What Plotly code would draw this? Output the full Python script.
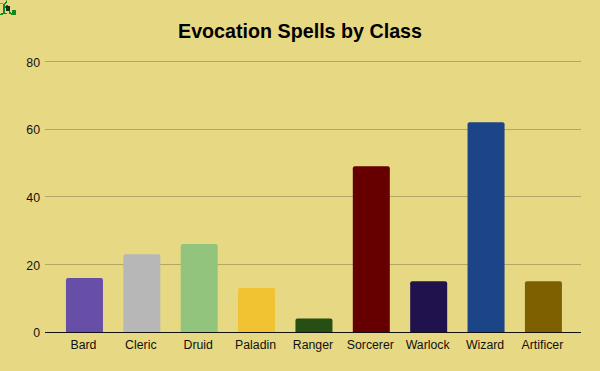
import base64
import plotly.graph_objects as go

classes = ["Bard", "Cleric", "Druid", "Paladin", "Ranger", "Sorcerer", "Warlock", "Wizard", "Artificer"]
spells = [16, 23, 26, 13, 4, 49, 15, 62, 15]
colors = ["#674ea7", "#b7b7b7", "#93c47d", "#f1c232", "#274e13", "#660000", "#20124d", "#1c4587", "#7f6000"]
y_ticks = [0, 20, 40, 60, 80]
BG = "#e7d984"

icon_svg = """<svg xmlns='http://www.w3.org/2000/svg' width='16' height='15' viewBox='0 0 16 15' shape-rendering='crispEdges'>
<g fill='none' stroke='#0b8a1e' stroke-width='1.5'>
<path d='M7 0 L6 2 L4 4 L4 13 L0 14'/><path d='M4 7 L8 5'/><path d='M4 13 L7 13'/>
<path d='M9 8 L10 13 L15 14 L15 10 L13 10 L13 13'/></g>
<path d='M0 3 L3 2 L3 4 L0 4 Z' fill='#d9772c'/>
<path d='M6 6 L10 6 L10 11 L6 11 Z' fill='#1c2a18'/>
</svg>"""
icon_src = "data:image/svg+xml;base64," + base64.b64encode(icon_svg.encode()).decode()

PH = 274.4
PW = 536
fig = go.Figure(go.Bar(x=classes, y=spells, marker=dict(color=colors, line=dict(width=0))))
fig.update_layout(
    width=600, height=371, margin=dict(l=45, r=19, t=57.6, b=39),
    paper_bgcolor=BG, plot_bgcolor=BG, showlegend=False, bargap=0.355, barcornerradius=2,
    font=dict(family="Liberation Sans, Arial, sans-serif", size=12, color="#111111"),
    title=dict(text="<b>Evocation Spells by Class</b>", x=0.5, xanchor="center", y=0.916, yanchor="middle",
               font=dict(size=19.7, color="#000000")),
    xaxis=dict(range=[-0.688, 8.655], showgrid=False, showline=True, linecolor="#111111", linewidth=1,
               ticks="", ticklabelstandoff=1, ticklabelshift=-1, tickfont=dict(size=12.3)),
    yaxis=dict(range=[0, 81], tickvals=y_ticks, gridcolor="#b3a666", gridwidth=1, zeroline=False,
               showline=False, ticks="", ticklabelstandoff=4, ticklabelshift=1, tickfont=dict(size=12.3)),
    images=[dict(source=icon_src, xref="paper", yref="paper", x=-45/PW, y=1+57.6/PH, sizex=16/PW, sizey=15/PH,
                 xanchor="left", yanchor="top", layer="above", sizing="stretch")],
)
fig.write_html("out.html", config={"displayModeBar": False},
               post_script="document.body.style.margin='0';document.body.style.overflow='hidden';document.body.style.background='#e7d984';")
